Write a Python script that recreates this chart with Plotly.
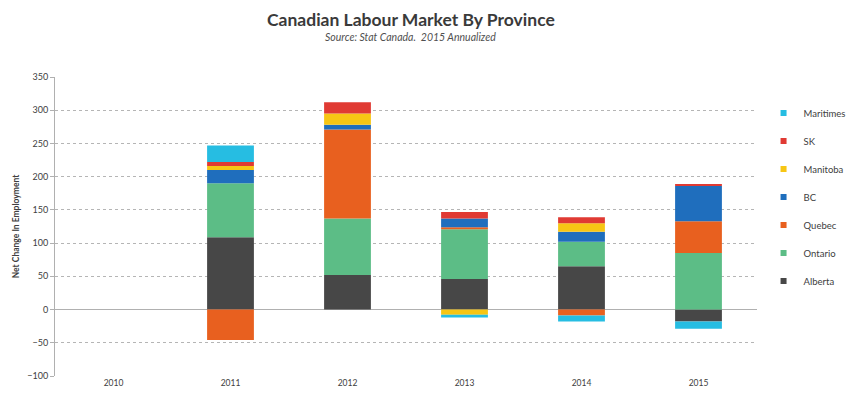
import plotly.graph_objects as go

# Years on the category axis
years = ["2010", "2011", "2012", "2013", "2014", "2015"]

# Net change in employment (thousands) by province
alberta = [0, 109, 52, 46, 65, -18]
ontario = [0, 81, 85, 75, 37, 85]
quebec = [0, -46, 134, 3, -9, 48]
bc = [0, 20, 7, 13, 15, 53]
manitoba = [0, 6, 17, -8, 13, 0]
sk = [0, 6, 17, 10, 9, 2]
maritimes = [0, 25, 0, -4, -9, -11]

# Stack order bottom -> top
series = [
    ("Alberta", alberta, "#474747"),
    ("Ontario", ontario, "#5cbd86"),
    ("Quebec", quebec, "#e8601f"),
    ("BC", bc, "#1f6ebd"),
    ("Manitoba", manitoba, "#f7c614"),
    ("SK", sk, "#e03a33"),
    ("Maritimes", maritimes, "#26bde2"),
]

y_ticks = [-100, -50, 0, 50, 100, 150, 200, 250, 300, 350]

FONT = "Lato, 'Open Sans', sans-serif"
TEXT = "#404040"

fig = go.Figure()
for name, vals, color in series:
    fig.add_trace(go.Bar(
        x=years, y=vals, name=name,
        marker=dict(color=color, line=dict(width=0)),
        showlegend=False,
    ))

# Legend entries with small square swatches, top item first
for i, (name, vals, color) in enumerate(reversed(series)):
    fig.add_trace(go.Scatter(
        x=[None], y=[None], mode="markers", name=name,
        marker=dict(symbol="square", size=6, color=color),
        legendgroup=f"g{i}", showlegend=True,
    ))

fig.update_layout(
    width=856, height=396,
    margin=dict(l=55, r=99, t=77, b=20, autoexpand=False),
    paper_bgcolor="white", plot_bgcolor="white",
    barmode="relative", bargap=0.6,
    font=dict(family=FONT, color=TEXT, size=9),
    legend=dict(
        xref="container", x=0.892, xanchor="left",
        y=0.928, yanchor="top",
        font=dict(family=FONT, size=9.5, color=TEXT),
        tracegroupgap=9, itemwidth=30,
        bgcolor="rgba(0,0,0,0)",
    ),
    xaxis=dict(
        type="category", showgrid=False, showline=False, ticks="",
        automargin=False,
        tickfont=dict(family=FONT, size=8.5, color=TEXT),
    ),
    yaxis=dict(
        range=[-100, 350], tickvals=y_ticks, automargin=False,
        showgrid=True, gridcolor="#b5b5b5", gridwidth=1, griddash="dot",
        zeroline=True, zerolinecolor="#b0b0b0", zerolinewidth=1,
        showline=True, linecolor="#b0b0b0", linewidth=1,
        ticks="outside", ticklen=4, tickcolor="#b0b0b0",
        tickfont=dict(family=FONT, size=9, color=TEXT),
        title=dict(text="<b>Net Change In Employment</b>", standoff=6,
                   font=dict(family=FONT, size=8.5, color=TEXT)),
    ),
    annotations=[
        dict(text="<b>Canadian Labour Market By Province</b>",
             xref="paper", yref="paper", x=0.507, y=1.0, yshift=58,
             xanchor="center", yanchor="middle", showarrow=False,
             font=dict(family=FONT, size=17.5, color="#3a3a3a")),
        dict(text="<i>Source: Stat Canada.  2015 Annualized</i>",
             xref="paper", yref="paper", x=0.507, y=1.0, yshift=40,
             xanchor="center", yanchor="middle", showarrow=False,
             font=dict(family=FONT, size=10.5, color="#505050")),
    ],
)

fig.write_html("out.html")
